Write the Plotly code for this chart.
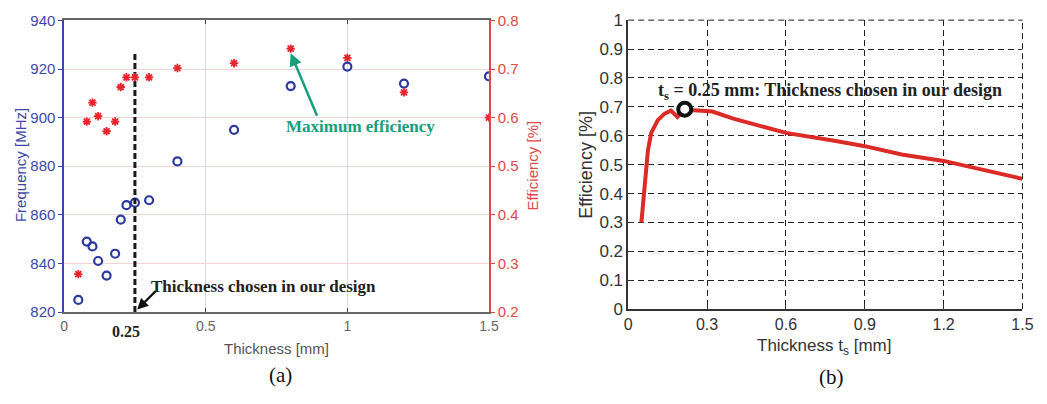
import plotly.graph_objects as go

# ---------------- data (a) ----------------
thickness_a = [0.05, 0.08, 0.10, 0.12, 0.15, 0.18, 0.20, 0.22, 0.25, 0.30, 0.40, 0.60, 0.80, 1.00, 1.20, 1.50]
frequency_mhz = [825, 849, 847, 841, 835, 844, 858, 864, 865, 866, 882, 895, 913, 921, 914, 917]
thickness_eff_a = [0.05, 0.08, 0.10, 0.12, 0.15, 0.18, 0.20, 0.22, 0.25, 0.30, 0.40, 0.60, 0.80, 1.00, 1.20, 1.50]
efficiency_a = [0.278, 0.592, 0.631, 0.603, 0.572, 0.592, 0.663, 0.683, 0.683, 0.683, 0.702, 0.712, 0.742, 0.723, 0.652, 0.600]
chosen_thickness = 0.25
chosen_line_freq = [820, 927]
max_eff_thickness = 0.80

# ---------------- data (b) ----------------
thickness_b = [0.05, 0.06, 0.075, 0.0875, 0.1125, 0.1375, 0.1625, 0.1875, 0.215, 0.25, 0.2875, 0.32,
               0.40, 0.60, 0.79, 0.90, 1.04, 1.20, 1.50]
efficiency_b = [0.30, 0.40, 0.55, 0.61, 0.654, 0.676, 0.687, 0.665, 0.69, 0.688, 0.687, 0.684,
                0.659, 0.61, 0.582, 0.564, 0.535, 0.513, 0.451]
chosen_point_b = (0.215, 0.692)

BLUE = "#2b3a9c"
BLUE_AX = "#3d47a8"
RED = "#e8232a"
RED_AX = "#e04a46"
GREEN = "#17a07a"
SERIF = "Liberation Serif"
SANS = "Liberation Sans"

fig = go.Figure()

# (a) frequency circles
fig.add_trace(go.Scatter(x=thickness_a, y=frequency_mhz, mode="markers", xaxis="x", yaxis="y",
                         marker=dict(symbol="circle-open", size=8, color=BLUE, line=dict(width=2.2, color=BLUE)),
                         showlegend=False))
# (a) efficiency stars
fig.add_trace(go.Scatter(x=thickness_eff_a, y=efficiency_a, mode="markers", xaxis="x", yaxis="y2",
                         marker=dict(symbol="asterisk-open", size=7, color=RED, line=dict(width=1.8, color=RED)),
                         showlegend=False))
# (a) chosen thickness dashed line
fig.add_trace(go.Scatter(x=[chosen_thickness, chosen_thickness], y=chosen_line_freq, mode="lines",
                         xaxis="x", yaxis="y", line=dict(color="#1a1a1a", width=3, dash="6px,3px"),
                         showlegend=False))

# (b) efficiency curve
fig.add_trace(go.Scatter(x=thickness_b, y=efficiency_b, mode="lines", xaxis="x2", yaxis="y3",
                         line=dict(color="#dc2b26", width=4), showlegend=False))
fig.add_trace(go.Scatter(x=[chosen_point_b[0]], y=[chosen_point_b[1]], mode="markers", xaxis="x2", yaxis="y3",
                         marker=dict(symbol="circle", size=13, color="white", line=dict(width=4, color="#111")),
                         showlegend=False))

W, H = 1047, 404
def px(x):
    return x / W
def py(y):
    return 1 - y / H

fig.update_layout(
    width=W, height=H, margin=dict(l=0, r=0, t=0, b=0),
    paper_bgcolor="white", plot_bgcolor="white",
    font=dict(family=SANS),
    xaxis=dict(domain=[px(61), px(492)], range=[0, 1.5], tickvals=[0, 0.5, 1, 1.5],
               showline=True, linecolor="#666", linewidth=1.5, mirror="ticks",
               ticks="inside", ticklen=4, tickcolor="#444",
               showgrid=True, gridcolor="#d7dae6", gridwidth=1, zeroline=False,
               tickfont=dict(size=14, color="#666"), anchor="y"),
    yaxis=dict(domain=[py(318), py(12)], range=[820, 940], dtick=20,
               showline=True, linecolor=BLUE_AX, linewidth=1.5,
               ticks="outside", ticklen=4, tickcolor=BLUE_AX,
               showgrid=True, gridcolor="#f3d4d4", gridwidth=1, zeroline=False,
               tickfont=dict(size=15, color=BLUE_AX), anchor="x"),
    yaxis2=dict(overlaying="y", side="right", range=[0.2, 0.8], dtick=0.1,
                showline=True, linecolor=RED_AX, linewidth=1.5,
                ticks="outside", ticklen=4, tickcolor=RED_AX, showgrid=False, zeroline=False,
                tickfont=dict(size=15, color=RED_AX), anchor="x"),
    xaxis2=dict(domain=[px(633.3), px(1033.3)], range=[0, 1.5], dtick=0.3,
                showline=True, linecolor="#333", linewidth=1.5, mirror=False,
                ticks="inside", ticklen=5, tickcolor="#333",
                showgrid=True, gridcolor="#222", gridwidth=1, griddash="6px,4px", zeroline=False,
                tickfont=dict(size=16, color="#333"), anchor="y3"),
    yaxis3=dict(domain=[py(315), py(11.7)], range=[0, 1], dtick=0.1,
                showline=True, linecolor="#333", linewidth=1.5,
                ticks="inside", ticklen=5, tickcolor="#333",
                showgrid=True, gridcolor="#222", gridwidth=1, griddash="6px,4px", zeroline=False,
                tickfont=dict(size=17, color="#333"), anchor="x2"),
)

# dashed border on top / right of (b), matching its dashed grid
fig.add_shape(type="line", xref="x2 domain", yref="y3 domain", x0=0, x1=1, y0=1, y1=1,
              line=dict(color="#222", width=1, dash="6px,4px"))
fig.add_shape(type="line", xref="x2 domain", yref="y3 domain", x0=1, x1=1, y0=0, y1=1,
              line=dict(color="#222", width=1, dash="6px,4px"))

def txt(x, y, text, size, color, family, angle=0, xanchor="center"):
    return dict(x=x, y=y, xref="paper", yref="paper", text=text, textangle=angle,
                xanchor=xanchor, yanchor="middle", showarrow=False,
                font=dict(size=size, color=color, family=family))

ann = []
# axis titles (a)
ann.append(txt(px(17), py(164), "Frequency [MHz]", 15, BLUE_AX, SANS, -90))
ann.append(txt(px(536), py(164), "Efficiency [%]", 15, RED_AX, SANS, -90))
ann.append(txt(px(276), py(356), "Thickness [mm]", 15, "#555", SANS))
ann.append(txt(px(281), py(384), "(a)", 21, "#111", SERIF))
# bold 0.25 tick label
ann.append(dict(x=chosen_thickness - 0.03, y=py(338), xref="x", yref="paper", text="<b>0.25</b>",
                xanchor="center", yanchor="middle",
                showarrow=False, font=dict(size=16, color="#222", family=SERIF)))
# "Thickness chosen in our design" text + arrow
ann.append(txt(px(147), py(291), "<b>Thickness chosen in our design</b>", 17, "#222", SERIF, xanchor="left"))
ann.append(dict(x=chosen_thickness + 0.008, y=821, xref="x", yref="y", text="", showarrow=True,
                ax=20, ay=-20, arrowhead=2, arrowsize=1, arrowwidth=2.2, arrowcolor="#111"))
# "Maximum efficiency" text + arrow
ann.append(txt(px(362), py(123), "<b>Maximum efficiency</b>", 17, GREEN, SERIF))
ann.append(dict(x=max_eff_thickness, y=926.5, xref="x", yref="y", text="", showarrow=True,
                ax=27, ay=64, arrowhead=2, arrowsize=1, arrowwidth=2.5, arrowcolor=GREEN))

# (b) titles
ann.append(txt(px(591), py(164), "Efficiency [%]", 18, "#333", SANS, -90))
ann.append(txt(px(832), py(355), "Thickness t<sub>s</sub> [mm]", 17, "#333", SANS))
ann.append(txt(px(840), py(386), "(b)", 21, "#111", SERIF))
ann.append(txt(px(838), py(87), "<b>t<sub>s</sub> = 0.25 mm: Thickness chosen in our design</b>", 18, "#222", SERIF))

fig.update_layout(annotations=ann)
fig.write_html("out.html",
               post_script="document.body.style.margin='0';document.body.style.overflow='hidden';")
